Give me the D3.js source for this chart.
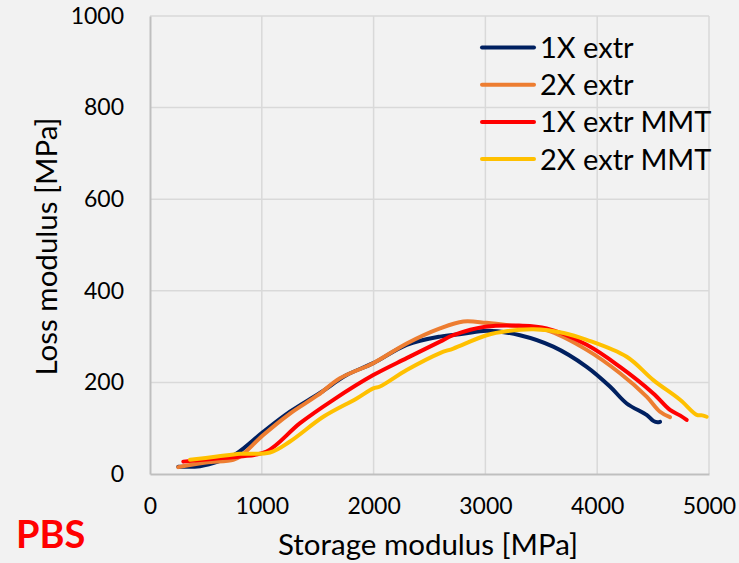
<!DOCTYPE html>
<html><head><meta charset="utf-8">
<script src="https://cdn.jsdelivr.net/npm/d3@7"></script>
<style>body{margin:0;background:#f2f2f2;}svg{display:block;}</style>
</head><body>
<svg id="c" width="739" height="563"></svg>
<script>
const seriesNames = ["1X extr", "2X extr", "1X extr MMT", "2X extr MMT"];
const seriesColors = ["#002060", "#ED7D31", "#FF0000", "#FFC000"];
const ext1X = [[253,16],[447,17],[620,28],[775,45],[1013,92],[1252,136],[1520,177],[1759,216],[1997,242],[2296,282],[2594,300],[2800,306],[3011,313],[3309,303],[3607,278],[3906,234],[4114,191],[4264,154],[4442,129],[4502,116],[4540,113],[4562,114]];
const ext2X = [[253,15],[500,25],[745,31],[805,38],[1013,85],[1252,132],[1500,172],[1699,209],[1997,242],[2296,285],[2594,318],[2803,333],[3011,330],[3300,322],[3547,314],[3906,271],[4204,220],[4442,169],[4562,136],[4651,124]];
const ext1XMMT = [[298,27],[550,33],[805,38],[1043,49],[1342,111],[1640,162],[1997,216],[2296,253],[2594,289],[2713,303],[3011,322],[3300,324],[3547,318],[3906,282],[4204,234],[4502,176],[4651,140],[4740,128],[4800,118]];
const ext2XMMT = [[358,31],[600,38],[805,44],[1073,47],[1252,71],[1550,125],[1849,165],[1997,187],[2057,191],[2296,227],[2594,264],[2713,274],[3011,303],[3200,312],[3428,316],[3700,308],[3906,293],[4264,256],[4502,205],[4741,162],[4890,129],[4940,128],[4979,125]];
const seriesData = [ext1X, ext2X, ext1XMMT, ext2XMMT];
const xTicks = [0,1000,2000,3000,4000,5000];
const yTicks = [0,200,400,600,800,1000];

const svg = d3.select("#c");
const font = "Lato, 'Open Sans', sans-serif";
const x = d3.scaleLinear().domain([0,5000]).range([150,709]);
const y = d3.scaleLinear().domain([0,1000]).range([474,16]);

// gridlines
svg.append("g").selectAll("line").data(xTicks.slice(1)).join("line")
  .attr("x1",d=>x(d)).attr("x2",d=>x(d)).attr("y1",y(0)).attr("y2",y(1000))
  .attr("stroke","#d9d9d9").attr("stroke-width",1.5);
svg.append("g").selectAll("line").data(yTicks.slice(1)).join("line")
  .attr("x1",x(0)).attr("x2",x(5000)).attr("y1",d=>y(d)).attr("y2",d=>y(d))
  .attr("stroke","#d9d9d9").attr("stroke-width",1.5);

// axes
const xAxis = svg.append("g").attr("transform",`translate(0,${y(0)})`)
  .call(d3.axisBottom(x).tickValues(xTicks).tickSize(0).tickPadding(24).tickFormat(d3.format("d")));
const yAxis = svg.append("g").attr("transform",`translate(${x(0)},0)`)
  .call(d3.axisLeft(y).tickValues(yTicks).tickSize(0).tickPadding(26).tickFormat(d3.format("d")));
[xAxis,yAxis].forEach(a=>{
  a.select(".domain").attr("stroke","#bfbfbf").attr("stroke-width",2);
  a.selectAll("text").attr("font-family",font).attr("font-size",23).attr("fill","#000");
});

// lines
const line = d3.line().x(d=>x(d[0])).y(d=>y(d[1])).curve(d3.curveCatmullRom.alpha(0.5));
svg.append("g").selectAll("path").data(seriesData).join("path")
  .attr("d",line).attr("fill","none")
  .attr("stroke",(d,i)=>seriesColors[i]).attr("stroke-width",4)
  .attr("stroke-linecap","round").attr("stroke-linejoin","round");

// legend
const lg = svg.append("g");
seriesNames.forEach((n,i)=>{
  const yy = 47.5 + i*37.2;
  lg.append("line").attr("x1",482).attr("x2",534).attr("y1",yy).attr("y2",yy)
    .attr("stroke",seriesColors[i]).attr("stroke-width",4).attr("stroke-linecap","round");
  lg.append("text").attr("x",540).attr("y",yy).attr("dy","0.36em")
    .attr("font-family",font).attr("font-size",29).attr("fill","#000").text(n);
});

// titles
svg.append("text").attr("x",428).attr("y",555).attr("text-anchor","middle")
  .attr("font-family",font).attr("font-size",29.5).attr("fill","#000").text("Storage modulus [MPa]");
svg.append("text").attr("transform","translate(57,246.5) rotate(-90)").attr("text-anchor","middle")
  .attr("font-family",font).attr("font-size",29.5).attr("fill","#000").text("Loss modulus [MPa]");
svg.append("text").attr("x",16).attr("y",548)
  .attr("font-family",font).attr("font-size",38).attr("font-weight","bold").attr("fill","#FF0000").text("PBS");
</script>
</body></html>
